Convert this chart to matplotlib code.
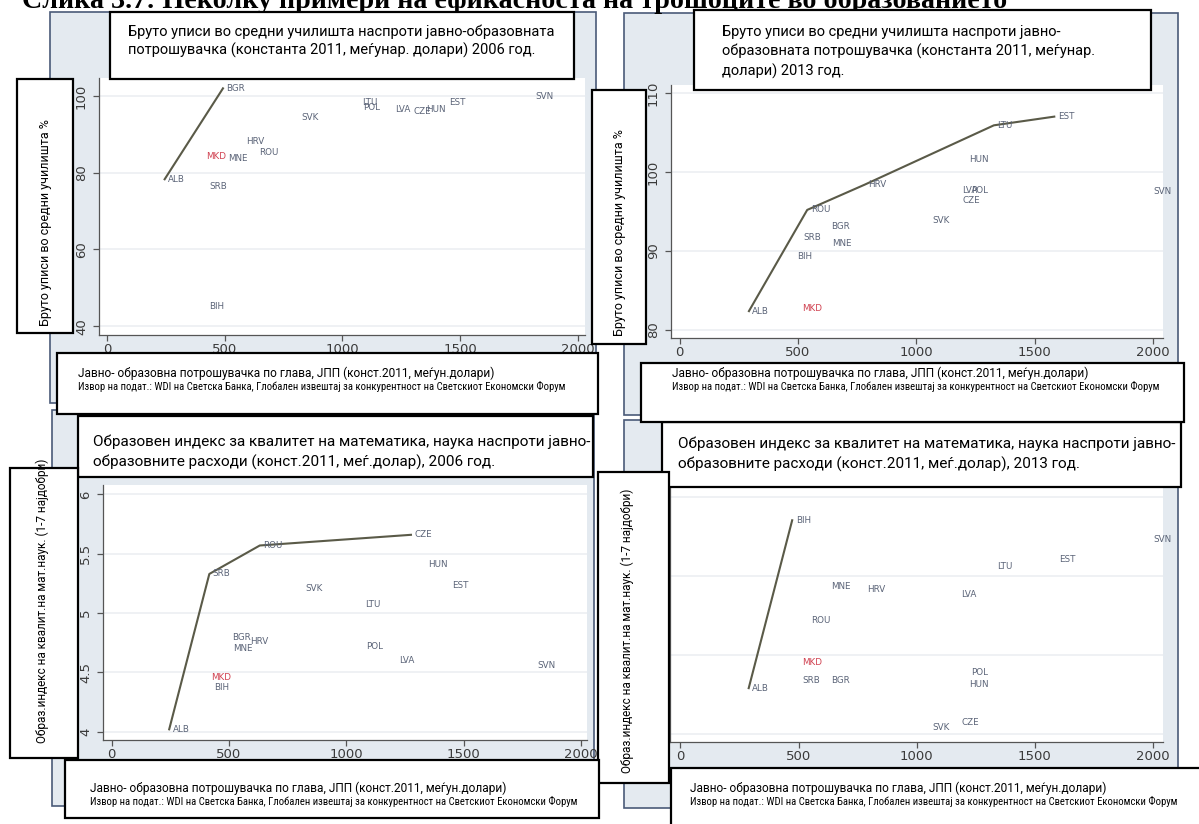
import matplotlib
matplotlib.use("Agg")
import matplotlib.pyplot as plt
from matplotlib.patches import Rectangle

# --- data ---
codes = ['ALB', 'BGR', 'BIH', 'CZE', 'EST', 'HRV', 'HUN', 'LTU',
         'LVA', 'MKD', 'MNE', 'POL', 'ROU', 'SRB', 'SVK', 'SVN']

# gross secondary enrolment vs public spending, 2006
enr06_spend = [244, 492, 418, 1287, 1438, 576, 1340, 1069,
               1210, 406, 498, 1072, 630, 418, 812, 1804]
enr06_value = [78.3, 102.0, 45.1, 95.9, 98.3, 88.1, 96.6, 98.4,
               96.6, 84.2, 83.7, 96.9, 85.2, 76.5, 94.3, 99.8]
enr06_frontier = ['ALB', 'BGR']

# gross secondary enrolment vs public spending, 2013
enr13_spend = [293, 624, 481, 1180, 1582, 782, 1208, 1327,
               1180, 502, 629, 1215, 539, 509, 1051, 1985]
enr13_value = [82.4, 93.1, 89.3, 96.4, 107.0, 98.4, 101.6, 105.9,
               97.6, 82.7, 90.9, 97.6, 95.2, 91.7, 93.8, 97.5]
enr13_frontier = ['ALB', 'ROU', 'HRV', 'LTU', 'EST']

# quality of math & science education vs spending, 2006
math06_spend = [245, 500, 421, 1275, 1437, 573, 1335, 1065,
                1209, 409, 503, 1070, 631, 416, 810, 1799]
math06_value = [4.02, 4.79, 4.37, 5.66, 5.23, 4.76, 5.41, 5.07,
                4.60, 4.46, 4.70, 4.72, 5.57, 5.33, 5.21, 4.56]
math06_frontier = ['ALB', 'SRB', 'ROU', 'CZE']

# quality of math & science education vs spending, 2013
math13_spend = [289, 624, 473, 1175, 1586, 777, 1208, 1327,
                1175, 502, 624, 1216, 539, 502, 1051, 1988]
math13_value = [3.79, 3.84, 4.85, 3.57, 4.60, 4.41, 3.81, 4.56,
                4.38, 3.95, 4.43, 3.89, 4.22, 3.84, 3.54, 4.73]
math13_frontier = ['ALB', 'BIH']

x_ticks = [0, 500, 1000, 1500, 2000]

fig_title = 'Слика 3.7: Неколку примери на ефикасноста на трошоците во образованието'
title_tl = ['Бруто уписи во средни училишта наспроти јавно-образовната',
            'потрошувачка (константа 2011, меѓунар. долари) 2006 год.']
title_tr = ['Бруто уписи во средни училишта наспроти јавно-',
            'образовната потрошувачка (константа 2011, меѓунар.',
            'долари) 2013 год.']
title_bl = ['Образовен индекс за квалитет на математика, наука наспроти јавно-',
            'образовните расходи (конст.2011, меѓ.долар), 2006 год.']
title_br = ['Образовен индекс за квалитет на математика, наука наспроти јавно-',
            'образовните расходи (конст.2011, меѓ.долар), 2013 год.']
ylab_enr = 'Бруто уписи во средни училишта %'
ylab_math = 'Образ.индекс на квалит.на мат.наук. (1-7 најдобри)'
xlab = 'Јавно- образовна потрошувачка по глава, ЈПП (конст.2011, меѓун.долари)'
source = ('Извор на подат.: WDI на Светска Банка, Глобален извештај за '
          'конкурентност на Светскиот Економски Форум')

W, H = 1199, 824
box_font = ['Roboto', 'DejaVu Sans']
frame_fc = '#e4eaf0'
frame_ec = '#4a5a78'
label_col = '#5b6478'
line_col = '#5a5a48'

fig = plt.figure(figsize=(W / 100, H / 100), dpi=100)
fig.patch.set_facecolor('white')


def rect(x0, y0, x1, y1, fc, ec, lw, z):
    fig.add_artist(Rectangle((x0 / W, 1 - y1 / H), (x1 - x0) / W, (y1 - y0) / H,
                             transform=fig.transFigure, facecolor=fc,
                             edgecolor=ec, linewidth=lw, zorder=z))


def ftext(x, y, s, **kw):
    fig.text(x / W, 1 - y / H, s, zorder=7, **kw)


def panel(box, xlim, ylim, yticks, spend, value, frontier):
    x0, y0, x1, y1 = box
    ax = fig.add_axes([x0 / W, 1 - y1 / H, (x1 - x0) / W, (y1 - y0) / H])
    ax.set_facecolor('white')
    ax.set_xlim(xlim)
    ax.set_ylim(ylim)
    ax.set_xticks(x_ticks)
    ax.set_yticks(yticks)
    ax.set_yticklabels([('%g' % t) for t in yticks], rotation=90, va='center')
    for t in yticks:
        ax.axhline(t, color='#eceff2', lw=1.2, zorder=0)
    for s in ['top', 'right']:
        ax.spines[s].set_visible(False)
    for s in ['left', 'bottom']:
        ax.spines[s].set_color('#555555')
        ax.spines[s].set_linewidth(0.9)
    ax.tick_params(colors='#555555', labelcolor='#3a3a3a', labelsize=9.5,
                   length=4, width=0.9)
    ax.tick_params(axis='x', pad=2)
    ax.tick_params(axis='y', pad=4)
    fx = [spend[codes.index(c)] for c in frontier]
    fy = [value[codes.index(c)] for c in frontier]
    ax.plot(fx, fy, color=line_col, lw=1.5, zorder=2)
    for c, xv, yv in zip(codes, spend, value):
        col = '#d0404f' if c == 'MKD' else label_col
        ax.annotate(c, (xv, yv), xytext=(2.5, 0), textcoords='offset points',
                    ha='left', va='center', fontsize=6.3, color=col,
                    annotation_clip=False, zorder=3)
    return ax


# grey graph regions
rect(50, 12, 596, 403, frame_fc, frame_ec, 1.2, -1)
rect(624, 13, 1178, 415, frame_fc, frame_ec, 1.2, -1)
rect(52, 410, 594, 806, frame_fc, frame_ec, 1.2, -1)
rect(624, 420, 1178, 808, frame_fc, frame_ec, 1.2, -1)

panel((99, 78, 585, 335), (-35, 2031), (37.7, 104.7), [40, 60, 80, 100],
      enr06_spend, enr06_value, enr06_frontier)
panel((671, 85, 1163, 338), (-36, 2041), (79, 111), [80, 90, 100, 110],
      enr13_spend, enr13_value, enr13_frontier)
panel((103, 485, 587, 740), (-37, 2025), (3.93, 6.08), [4, 4.5, 5, 5.5, 6],
      math06_spend, math06_value, math06_frontier)
panel((670, 487, 1163, 742), (-44, 2042), (3.45, 5.06), [3.5, 4, 4.5, 5],
      math13_spend, math13_value, math13_frontier)

# page title (cut off at the top of the page)
fig.text(515 / W, 1 - 8 / H, fig_title, ha='center', va='baseline',
         fontsize=20.2, fontweight='bold', family='Liberation Serif')

# title boxes
rect(110, 12, 574, 79, 'white', 'black', 1.6, 5)
for i, s in enumerate(title_tl):
    ftext(128, 32 + 18 * i, s, ha='left', va='center', fontsize=10.5, family=box_font)
rect(694, 10, 1151, 90, 'white', 'black', 1.6, 5)
for i, s in enumerate(title_tr):
    ftext(722, 32 + 19.5 * i, s, ha='left', va='center', fontsize=10.5, family=box_font)
rect(78, 416, 593, 477, 'white', 'black', 1.6, 5)
for i, s in enumerate(title_bl):
    ftext(93, 442 + 20 * i, s, ha='left', va='center', fontsize=11, family=box_font)
rect(662, 422, 1181, 487, 'white', 'black', 1.6, 5)
for i, s in enumerate(title_br):
    ftext(678, 444 + 20 * i, s, ha='left', va='center', fontsize=11, family=box_font)

# y label boxes
rect(17, 79, 73, 333, 'white', 'black', 1.6, 5)
ftext(46, 223, ylab_enr, ha='center', va='center', rotation=90, fontsize=9, family=box_font)
rect(592, 90, 646, 344, 'white', 'black', 1.6, 5)
ftext(619, 233, ylab_enr, ha='center', va='center', rotation=90, fontsize=9, family=box_font)
rect(10, 468, 78, 758, 'white', 'black', 1.6, 5)
ftext(42, 601, ylab_math, ha='center', va='center', rotation=90, fontsize=8.5, family=box_font)
rect(598, 472, 669, 783, 'white', 'black', 1.6, 5)
ftext(627, 631, ylab_math, ha='center', va='center', rotation=90, fontsize=8.5, family=box_font)

# x label / source boxes
for (x0, y0, x1, y1, tx, ty) in [(57, 353, 598, 414, 78, 373),
                                 (641, 363, 1184, 422, 672, 373),
                                 (65, 760, 599, 818, 90, 788),
                                 (671, 768, 1205, 830, 690, 788)]:
    rect(x0, y0, x1, y1, 'white', 'black', 1.6, 5)
    ftext(tx, ty, xlab, ha='left', va='center', fontsize=8.6, family=box_font)
    ftext(tx, ty + 13, source, ha='left', va='center', fontsize=7.7,
          family=['Roboto Condensed', 'Roboto', 'DejaVu Sans'])

fig.savefig('out.png', dpi=100)
